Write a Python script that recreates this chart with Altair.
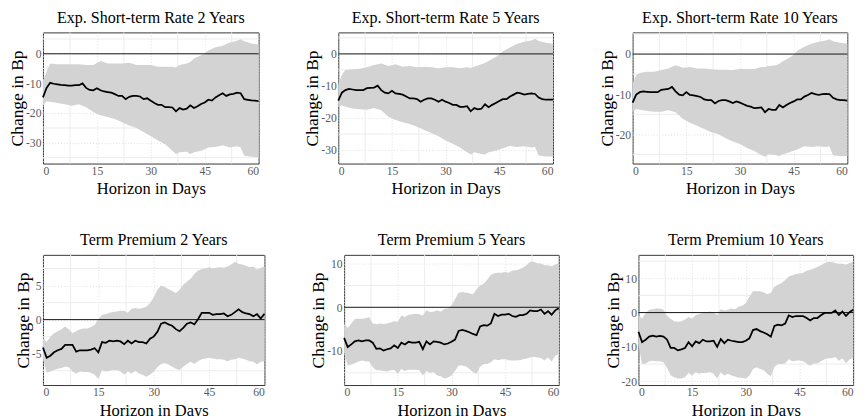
import altair as alt
import pandas as pd

FONT = "Liberation Serif"

days = list(range(61))
band_days_top = [0, 1, 2, 4, 6, 8, 10, 12, 14, 16, 18, 20, 22, 24, 26, 28, 30, 32, 34, 36, 37, 38,
                 40, 41, 42, 44, 45, 46, 48, 50, 52, 54, 55, 56, 58, 60]
band_days_bottom = list(range(61))
x_ticks = [0, 15, 30, 45, 60]
x_minor = [7.5, 22.5, 37.5, 52.5]

titles = [
    "Exp. Short-term Rate 2 Years", "Exp. Short-term Rate 5 Years", "Exp. Short-term Rate 10 Years",
    "Term Premium 2 Years", "Term Premium 5 Years", "Term Premium 10 Years",
]

# ---- Expected short-term rate, 2 years
es2_line = [-14.7, -11.5, -9.8, -10.1, -10.3, -10.5, -10.6, -10.7, -10.7, -10.6, -10.6, -10.0, -11.5, -12.2,
            -12.3, -11.6, -12.3, -12.7, -12.9, -13.1, -13.6, -14.2, -14.2, -15.3, -14.5, -14.2, -14.2, -14.4,
            -15.3, -15.0, -15.8, -16.6, -17.2, -17.2, -18.0, -18.0, -18.1, -19.4, -18.3, -18.8, -18.5, -17.4,
            -18.3, -17.7, -16.9, -16.4, -15.5, -15.8, -14.7, -14.0, -13.3, -14.2, -13.7, -13.5, -13.1, -13.3,
            -15.3, -15.5, -15.7, -15.8, -16.0]
es2_upper = [-9.0, -6.0, -3.3, -3.5, -3.5, -3.5, -3.5, -3.8, -3.8, -2.4, -3.3, -3.3, -3.3, -3.0, -3.8, -3.8,
             -3.8, -4.4, -4.4, -4.4, -4.6, -3.8, -3.3, -2.8, -1.6, -0.5, 0.2, 1.1, 2.2, 2.7, 3.8, 4.4, 4.9,
             4.2, 3.5, 3.1]
es2_lower = [-17.5, -16.0, -16.2, -16.6, -17.0, -17.5, -17.0, -18.0, -19.6, -20.7, -21.3, -22.0, -23.1, -24.2,
             -25.0, -26.4, -27.8, -29.2, -30.5, -32.7, -33.8, -33.2, -33.0, -33.8, -33.2, -32.7, -32.2, -31.6,
             -31.4, -30.8, -31.6, -31.2, -31.6, -34.4, -34.7, -34.9]

# ---- Expected short-term rate, 5 years
es5_line = [-14.6, -12.1, -11.3, -10.9, -11.1, -11.3, -11.3, -11.3, -10.7, -10.6, -10.5, -9.9, -11.3, -12.1,
            -12.3, -11.5, -12.3, -12.5, -12.7, -13.3, -13.9, -13.9, -14.1, -14.9, -14.3, -13.9, -13.9, -14.3,
            -14.9, -14.3, -14.9, -15.3, -15.9, -15.9, -16.5, -16.5, -16.3, -17.9, -16.9, -17.3, -17.1, -15.7,
            -16.6, -15.9, -15.3, -14.7, -14.1, -14.1, -13.3, -12.7, -12.1, -12.3, -12.7, -12.5, -12.3, -12.5,
            -13.6, -14.1, -14.3, -14.3, -14.3]
es5_upper = [-9.6, -6.5, -5.0, -4.8, -4.6, -4.2, -3.5, -3.0, -3.8, -3.2, -4.0, -3.8, -4.2, -4.0, -4.2, -4.5,
             -4.2, -4.2, -4.5, -4.2, -4.4, -4.0, -3.2, -2.8, -2.2, -1.0, -0.2, 0.8, 2.0, 3.2, 3.8, 4.2, 4.7,
             4.0, 3.5, 3.2]
es5_lower = [-16.6, -16.1, -16.5, -17.0, -17.3, -17.4, -16.9, -17.6, -19.6, -20.6, -21.3, -21.9, -22.7, -23.7,
             -24.7, -25.7, -27.0, -28.0, -29.2, -30.7, -31.4, -30.7, -31.2, -31.4, -30.7, -30.2, -29.8, -29.4,
             -28.7, -29.0, -28.8, -29.2, -29.0, -31.7, -32.0, -32.0]

# ---- Expected short-term rate, 10 years
es10_line = [-12.1, -10.1, -9.5, -9.3, -9.4, -9.5, -9.5, -9.5, -8.9, -8.8, -8.7, -8.2, -9.3, -10.1, -10.3,
             -9.5, -10.2, -10.3, -10.5, -10.7, -11.3, -11.5, -11.5, -12.3, -11.7, -11.5, -11.5, -11.8, -12.2,
             -11.8, -12.1, -12.5, -12.9, -13.1, -13.5, -13.4, -13.3, -14.5, -13.7, -13.9, -13.9, -12.7, -13.3,
             -12.7, -12.2, -11.8, -11.3, -11.3, -10.6, -10.2, -9.7, -10.0, -10.2, -10.0, -9.9, -10.0, -10.9,
             -11.3, -11.5, -11.5, -11.6]
es10_upper = [-7.3, -5.2, -4.7, -4.4, -4.4, -4.0, -3.6, -2.8, -3.4, -3.2, -3.6, -3.6, -3.8, -3.9, -3.9, -4.0,
              -3.7, -3.7, -3.7, -3.2, -3.2, -3.0, -2.8, -2.4, -1.8, -0.8, -0.2, 0.8, 1.8, 2.6, 3.1, 3.4, 3.7,
              3.2, 2.8, 2.6]
es10_lower = [-14.5, -13.7, -13.9, -14.2, -14.4, -14.4, -14.0, -14.5, -16.1, -17.1, -17.9, -18.7, -19.5, -20.0,
              -21.0, -21.8, -22.4, -23.4, -24.2, -25.2, -25.6, -25.0, -25.2, -25.4, -25.0, -24.4, -24.1, -23.8,
              -23.0, -23.2, -23.0, -23.2, -23.0, -25.2, -25.5, -25.4]

# ---- Term premium, 2 years
tp2_line = [-4.1, -5.6, -5.3, -4.8, -4.5, -4.3, -3.7, -3.7, -3.7, -4.7, -4.5, -4.5, -4.5, -4.4, -4.2, -4.8,
            -3.3, -3.4, -3.1, -3.2, -3.1, -3.2, -3.6, -3.1, -3.5, -3.1, -3.3, -3.3, -3.5, -2.8, -2.5, -1.8,
            -0.6, -0.4, -0.7, -0.9, -1.4, -1.7, -1.2, -0.6, -0.4, -0.7, 0.05, 1.0, 1.0, 1.0, 0.7, 0.8, 0.8,
            0.9, 0.5, 0.7, 1.1, 1.5, 1.1, 0.9, 0.8, 0.5, 0.8, 0.15, 0.85]
tp2_upper = [-2.7, -3.3, -2.5, -2.0, -1.7, -1.4, -1.0, -1.4, -2.0, -1.7, -1.4, -1.3, -1.3, -1.1, -0.8, 0.1,
             0.7, 0.8, 1.0, 1.1, 1.2, 1.3, 1.3, 1.0, 1.6, 1.7, 1.6, 1.7, 1.9, 2.4, 3.3, 4.4, 5.0, 4.8, 4.5,
             4.2, 3.9, 4.4, 5.1, 5.6, 6.0, 6.7, 7.2, 7.4, 7.5, 7.7, 7.5, 7.6, 7.7, 7.6, 7.8, 8.1, 8.5, 8.2,
             8.1, 7.9, 7.7, 7.8, 7.3, 7.6, 7.8]
tp2_lower = [-5.8, -7.8, -7.6, -7.4, -7.2, -7.1, -6.9, -7.0, -7.6, -7.9, -7.6, -7.7, -7.7, -7.8, -8.1, -8.7,
             -7.4, -7.6, -7.5, -7.4, -7.4, -7.6, -8.1, -7.6, -7.9, -7.5, -7.9, -8.1, -8.4, -8.1, -7.6, -7.0,
             -6.5, -6.4, -6.6, -6.9, -7.2, -7.4, -6.9, -6.5, -6.2, -6.5, -6.1, -5.8, -5.7, -5.6, -5.7, -5.8,
             -5.8, -5.9, -6.1, -5.9, -5.8, -5.6, -5.7, -5.9, -6.1, -6.2, -6.6, -6.2, -6.1]

# ---- Term premium, 5 years
tp5_line = [-7.0, -9.1, -8.5, -7.8, -7.6, -7.8, -7.6, -7.6, -8.1, -9.5, -9.4, -9.9, -9.6, -9.4, -8.7, -9.3,
            -8.1, -8.5, -7.9, -8.1, -8.1, -7.9, -9.6, -7.8, -8.5, -7.8, -7.9, -8.1, -8.5, -8.3, -7.9, -7.4,
            -5.4, -5.2, -5.4, -5.7, -6.1, -6.4, -4.4, -4.1, -4.2, -3.7, -1.5, -2.0, -1.7, -1.7, -1.5, -2.0,
            -2.2, -1.8, -1.8, -1.5, -0.7, -0.9, -0.9, -0.5, -1.5, -0.9, -1.7, -0.7, -0.2]
tp5_upper = [-3.7, -4.8, -3.7, -2.7, -2.6, -2.6, -2.5, -2.2, -3.7, -3.9, -3.7, -3.8, -3.7, -3.5, -3.2, -3.3,
             -1.9, -2.2, -1.7, -1.6, -1.5, -1.6, -1.9, -0.7, -1.1, -1.0, -0.7, -1.0, -0.4, -0.2, 0.4, 1.9,
             3.3, 3.5, 3.3, 3.2, 3.0, 4.1, 5.0, 5.4, 6.3, 7.4, 7.8, 7.9, 7.9, 8.1, 7.9, 8.4, 8.5, 8.7, 9.1,
             9.6, 10.4, 10.4, 10.1, 10.0, 9.6, 9.6, 9.4, 9.8, 10.1]
tp5_lower = [-10.4, -13.3, -13.1, -12.8, -12.4, -12.2, -12.4, -12.4, -13.7, -14.4, -14.4, -14.6, -14.7, -14.4,
             -14.3, -15.2, -14.1, -14.6, -14.3, -14.3, -14.3, -14.4, -15.6, -14.6, -15.0, -14.8, -15.6, -15.8,
             -16.3, -16.1, -15.6, -14.6, -13.3, -13.3, -13.5, -14.1, -14.8, -15.2, -13.6, -13.0, -13.0, -12.6,
             -11.9, -12.1, -11.9, -11.9, -12.1, -12.2, -12.2, -12.1, -11.9, -11.7, -11.5, -11.3, -11.5, -11.6,
             -12.2, -11.5, -12.4, -11.1, -10.7]

# ---- Term premium, 10 years
tp10_line = [-5.6, -8.6, -7.9, -7.0, -6.7, -7.0, -6.8, -7.0, -7.9, -10.3, -10.3, -11.0, -10.7, -10.3, -8.6,
             -9.8, -8.4, -8.9, -7.9, -8.4, -8.4, -8.2, -10.0, -7.7, -8.9, -7.9, -8.2, -8.4, -8.6, -8.6, -8.2,
             -7.5, -5.1, -4.8, -5.4, -5.8, -6.3, -7.0, -3.9, -3.5, -3.7, -3.2, -0.8, -1.3, -1.0, -1.0, -1.0,
             -1.6, -2.3, -1.6, -1.6, -0.8, -0.1, -0.1, -0.1, 0.6, -0.7, 0.3, -1.0, 0.1, 0.8]
tp10_upper = [-0.7, -1.8, -0.1, 0.8, 1.0, 1.2, 1.2, 0.8, -1.0, -1.8, -2.5, -2.7, -2.5, -2.0, -1.3, -1.8, -0.7,
              -0.4, -0.1, 0.1, 0.3, 0.0, -0.7, 1.0, 0.6, 0.8, 1.2, 1.0, 1.8, 2.0, 2.7, 4.6, 6.2, 6.2, 6.2, 5.9,
              5.3, 5.8, 7.5, 8.1, 8.6, 9.5, 10.5, 10.9, 11.2, 11.4, 11.6, 12.2, 12.5, 12.8, 13.3, 13.8, 14.4,
              14.7, 14.7, 14.4, 14.2, 14.2, 14.0, 14.4, 14.7]
tp10_lower = [-9.3, -15.0, -14.8, -14.2, -14.0, -14.2, -14.2, -14.5, -16.1, -18.3, -18.8, -19.2, -19.2, -18.8,
              -17.6, -18.3, -17.4, -17.8, -17.6, -17.5, -17.4, -17.8, -19.2, -17.4, -18.3, -17.8, -18.3, -18.6,
              -19.0, -19.0, -19.2, -18.3, -16.4, -15.9, -16.4, -16.8, -17.8, -18.6, -15.8, -15.0, -15.0, -14.8,
              -13.6, -14.2, -14.0, -13.9, -14.2, -14.8, -15.5, -14.8, -14.8, -14.2, -13.6, -13.3, -13.3, -12.9,
              -14.0, -13.3, -14.8, -13.6, -13.3]

# y-axis domains, major ticks and minor grid positions
domains = [[-37.0, 7.2], [-34.2, 6.7], [-27.3, 5.4], [-9.6, 9.5], [-17.8, 12.0], [-21.1, 16.8]]
y_major = [[-30, -20, -10, 0], [-30, -20, -10, 0], [-20, -10, 0], [-5, 0, 5], [-10, 0, 10], [-20, -10, 0, 10]]
y_minor = [[-35, -25, -15, -5, 5], [-25, -15, -5, 5], [-25, -15, -5, 5], [-7.5, -2.5, 2.5, 7.5],
           [-15, -5, 5], [-15, -5, 5, 15]]

LABEL_COLOR = "#5a5a5a"
HYPHEN_LABEL = "replace(datum.label, '\u2212', '-')"


def panel(i, line, band_x, lower, upper, width, height, ext, tpad):
    assert len(line) == len(days)
    assert len(lower) == len(band_x) and len(upper) == len(band_x)
    line_df = pd.DataFrame({"day": days, "value": line})
    band_df = pd.DataFrame({"day": band_x, "lower": lower, "upper": upper})
    xs = alt.Scale(domain=[0, 60], nice=False, zero=False)
    ys = alt.Scale(domain=domains[i], nice=False, zero=False)
    xaxis = alt.Axis(values=x_ticks, title="Horizon in Days", grid=True, labelPadding=2, titlePadding=5,
                     titleFontWeight="normal", titleFontSize=17)
    yaxis = alt.Axis(values=y_major[i], title="Change in Bp", grid=True, labelPadding=2,
                     minExtent=ext, maxExtent=ext, titlePadding=tpad, labelExpr=HYPHEN_LABEL,
                     titleFontWeight="normal", titleFontSize=18)
    vgrid = alt.Chart(pd.DataFrame({"g": x_minor})).mark_rule(color="#ebebeb", strokeWidth=1).encode(
        x=alt.X("g:Q", scale=xs, axis=xaxis))
    hgrid = alt.Chart(pd.DataFrame({"g": y_minor[i]})).mark_rule(color="#ebebeb", strokeWidth=1).encode(
        y=alt.Y("g:Q", scale=ys, axis=yaxis))
    band = alt.Chart(band_df).mark_area(color="#d3d3d3", opacity=1).encode(
        x=alt.X("day:Q", scale=xs, axis=xaxis),
        y=alt.Y("lower:Q", scale=ys, axis=yaxis),
        y2="upper:Q")
    zero = alt.Chart(pd.DataFrame({"z": [0]})).mark_rule(color="#111111", strokeWidth=1).encode(
        y=alt.Y("z:Q", scale=ys, axis=yaxis))
    ln = alt.Chart(line_df).mark_line(color="black", strokeWidth=1.8).encode(
        x=alt.X("day:Q", scale=xs, axis=xaxis),
        y=alt.Y("value:Q", scale=ys, axis=yaxis))
    return alt.layer(vgrid, hgrid, band, zero, ln).properties(
        width=width, height=height,
        title=alt.TitleParams(titles[i], font=FONT, fontSize=16.5, fontWeight="normal", color="black",
                              anchor="middle", frame="group", offset=6))


row1 = alt.hconcat(
    panel(0, es2_line, band_days_top, es2_lower, es2_upper, 222, 135, 17, 0),
    panel(1, es5_line, band_days_top, es5_lower, es5_upper, 221, 135, 17, 0),
    panel(2, es10_line, band_days_top, es10_lower, es10_upper, 221, 135, 17, 0),
    spacing=41)
row2 = alt.hconcat(
    panel(3, tp2_line, band_days_bottom, tp2_lower, tp2_upper, 228, 134, 11, 0),
    panel(4, tp5_line, band_days_bottom, tp5_lower, tp5_upper, 221, 134, 17, 0),
    panel(5, tp10_line, band_days_bottom, tp10_lower, tp10_upper, 221, 134, 17, 0),
    spacing=41)

chart = alt.vconcat(row1, row2, spacing=35).properties(
    padding={"top": -5, "left": 0, "right": 0, "bottom": 0}
).configure_view(
    stroke="#333333", strokeWidth=1
).configure_axis(
    labelFont=FONT, titleFont=FONT, labelFontSize=12, titleFontSize=17, titleFontWeight="normal",
    labelColor=LABEL_COLOR, titleColor="black", ticks=False, domain=False,
    gridColor="#d6d6d6", gridDash=[1, 2], gridWidth=0.8)

chart.save("out.html", embed_options={"renderer": "svg", "actions": False})
